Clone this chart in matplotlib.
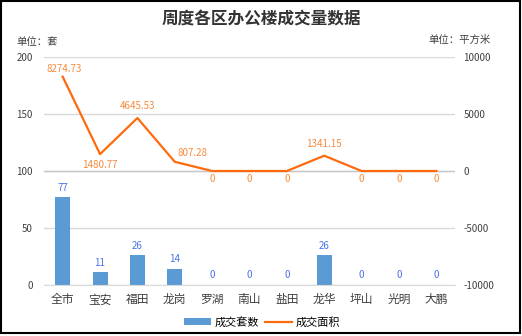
import matplotlib
matplotlib.use('Agg')
from matplotlib import pyplot as plt
from matplotlib.patches import Rectangle

plt.rcParams['font.family'] = ['Noto Sans CJK SC', 'DejaVu Sans']
plt.rcParams['axes.unicode_minus'] = False

# 数据
districts = ['全市', '宝安', '福田', '龙岗', '罗湖', '南山', '盐田', '龙华', '坪山', '光明', '大鹏']
units = [77, 11, 26, 14, 0, 0, 0, 26, 0, 0, 0]
areas = [8274.73, 1480.77, 4645.53, 807.28, 0, 0, 0, 1341.15, 0, 0, 0]
area_labels = ['8274.73', '1480.77', '4645.53', '807.28', '0', '0', '0', '1341.15', '0', '0', '0']

# 标签偏移 (points)
label_offset = [(1, 2), (0, -4), (0, 5), (13, 3), (0, -2), (0, -2), (0, -2), (0, 5), (0, -2), (0, -2), (0, -2)]

W, H = 522, 336
fig = plt.figure(figsize=(W / 100, H / 100), dpi=100)
ax = fig.add_axes([44 / W, 1 - 285 / H, 411 / W, 228 / H])
ax2 = ax.twinx()

x = list(range(len(districts)))
bars = ax.bar(x, units, width=0.4, color='#5b9bd5', label='成交套数', zorder=2)
for xi, v in zip(x, units):
    ax.text(xi, v + 4, str(v), ha='center', va='bottom', fontsize=7, color='#4a72e8')

line, = ax2.plot(x, areas, color='#ff6a0d', lw=1.6, label='成交面积', zorder=3)
for xi, v, s, off in zip(x, areas, area_labels, label_offset):
    ax2.annotate(s, (xi, v), xytext=off, textcoords='offset points', ha='center',
                 va='bottom' if off[1] > 0 else 'top', fontsize=7, color='#f58a3c')

ax.set_xlim(-0.5, len(districts) - 0.5)
ax.set_ylim(0, 200)
ax.set_yticks([0, 50, 100, 150, 200])
ax2.set_ylim(-10000, 10000)
ax2.set_yticks([-10000, -5000, 0, 5000, 10000])

ax.grid(axis='y', color='#d9d9d9', lw=1, zorder=0)
ax2.axhline(0, color='#c8c8c8', lw=1, zorder=1)
for a in (ax, ax2):
    for sp in a.spines.values():
        sp.set_visible(False)
    a.tick_params(length=0, labelsize=7, colors='#404040')
ax.spines['bottom'].set_visible(True)
ax.spines['bottom'].set_color('#d9d9d9')
ax.set_xticks(x)
ax.set_xticklabels(districts, fontsize=8.5)
ax.tick_params(axis='x', pad=6)
ax.tick_params(axis='y', pad=8)
ax2.tick_params(axis='y', pad=6)

fig.text(0.5, 1 - 19 / H, '周度各区办公楼成交量数据', ha='center', va='center',
         fontsize=12, fontweight='bold', color='#333333')
fig.text(16 / W, 1 - 42 / H, '单位：套', ha='left', va='center', fontsize=7.5, color='#404040')
fig.text(491 / W, 1 - 40 / H, '单位：平方米', ha='right', va='center', fontsize=7.5, color='#404040')

fig.legend(handles=[bars, line], loc='center', bbox_to_anchor=(262 / W, 1 - 322 / H), ncol=2,
           frameon=False, fontsize=8, handlelength=2.4, columnspacing=0.6, handletextpad=0.3)

fig.patches.append(Rectangle((0.5 / W, 1 - 333 / H), 519.5 / W, 332.5 / H, transform=fig.transFigure,
                             fill=False, edgecolor='black', lw=1.5))

plt.savefig('out.png', dpi=100)
